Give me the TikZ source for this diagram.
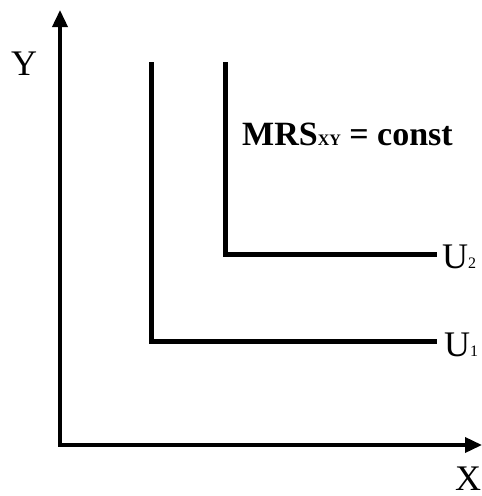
\documentclass[tikz,border=0pt]{standalone}
\usepackage{fontspec}
\setmainfont{Liberation Serif}
\usetikzlibrary{arrows.meta}
\tikzset{
  axis/.style={line width=3.6pt, -{Triangle[width=15pt,length=17pt]}},
  curve/.style={line width=5pt, line join=miter},
  lbl/.style={inner sep=0pt, anchor=base west, font=\fontsize{36}{40}\selectfont}
}
\newcommand{\subsz}{\fontsize{16}{16}\selectfont}
\begin{document}
\begin{tikzpicture}[x=1pt,y=-1pt]
\useasboundingbox (0,0) rectangle (482,496);
\coordinate (O) at (60,445);
\coordinate (ytip) at (60,10);
\coordinate (xtip) at (482,445);
\draw[axis] (60,446.8) -- (ytip);
\draw[axis] (58.2,445) -- (xtip);
\coordinate (u1a) at (151.5,62);
\coordinate (u1b) at (151.5,341);
\coordinate (u1c) at (437,341);
\coordinate (u2a) at (225.5,62);
\coordinate (u2b) at (225.5,254.5);
\coordinate (u2c) at (437,254.5);
\draw[curve] (u1a) -- (u1b) -- (u1c);
\draw[curve] (u2a) -- (u2b) -- (u2c);
\node[lbl] (ylab) at (11,75) {Y};
\node[lbl] (xlab) at (455,490) {X};
\node[lbl] (u2lab) at (442,268) {U{\subsz 2}};
\node[lbl] (u1lab) at (444,356) {U{\subsz 1}};
\node[lbl, font=\fontsize{34}{38}\selectfont\bfseries] (mrs) at (242,145) {MRS{\subsz XY} = const};
\end{tikzpicture}
\end{document}
